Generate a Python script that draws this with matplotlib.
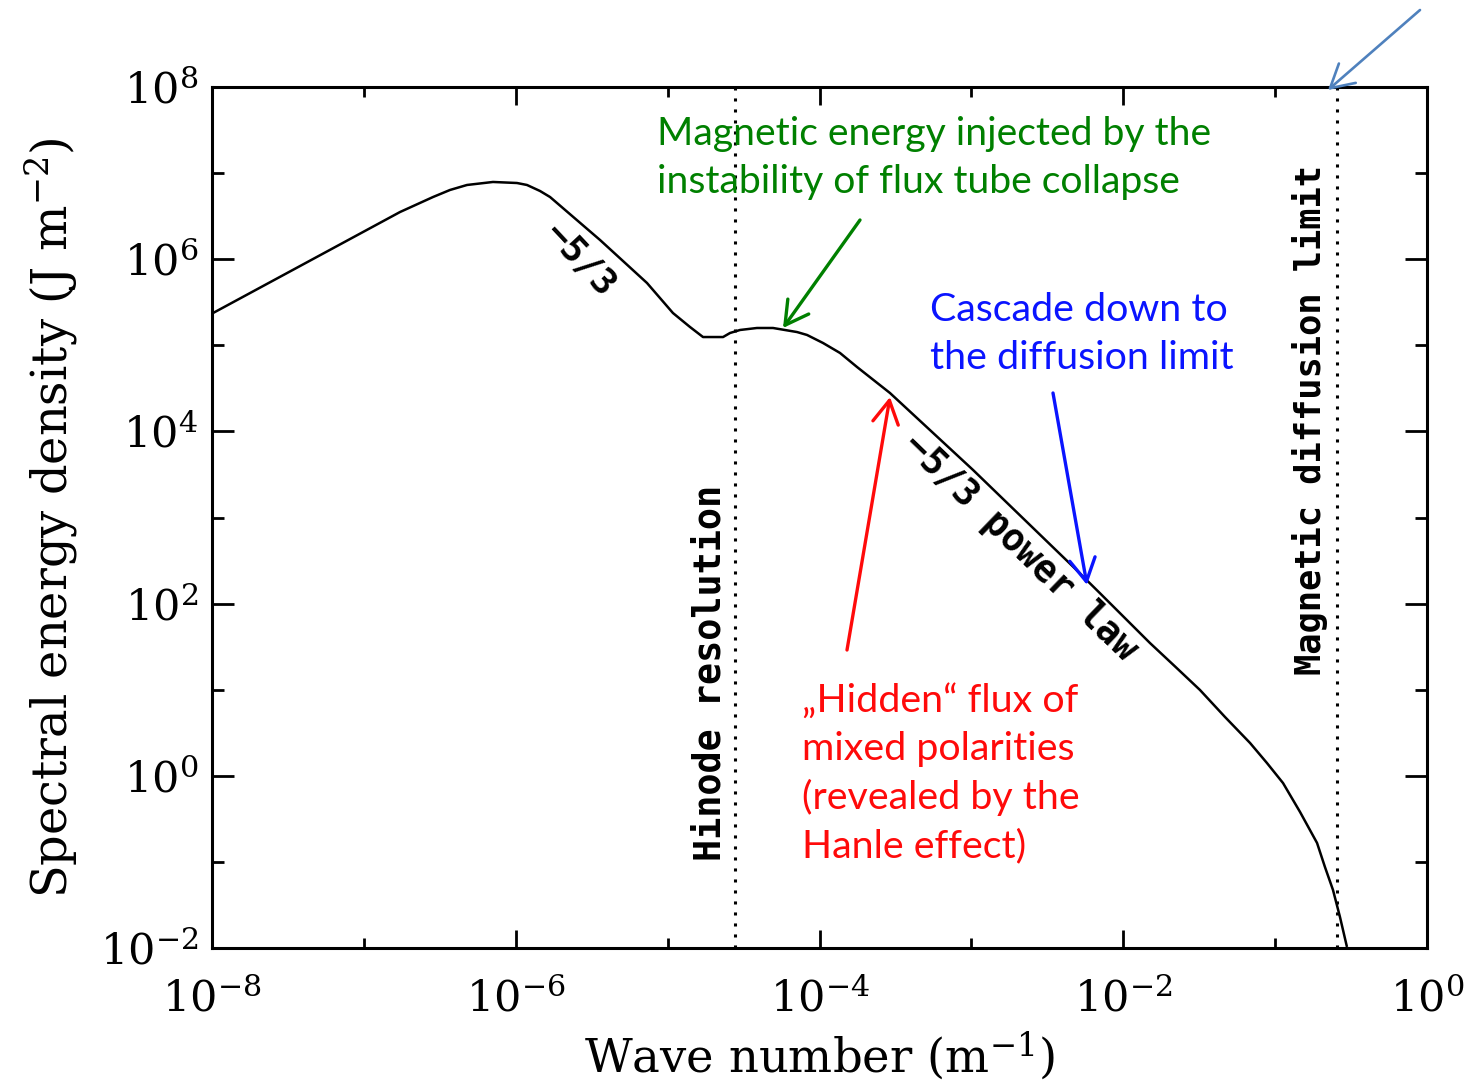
import numpy as np
import matplotlib
matplotlib.use("Agg")
import matplotlib.pyplot as plt

# spectrum (log10 values)
log_k = [-7.993, -7.421, -6.762, -6.545, -6.433, -6.321, -6.150, -5.992, -5.926,
         -5.840, -5.774, -5.445, -5.136, -4.965, -4.853, -4.767, -4.635, -4.589,
         -4.523, -4.412, -4.306, -4.148, -4.082, -3.977, -3.865, -3.753, -3.536,
         -2.989, -2.331, -2.153, -1.824, -1.659, -1.495, -1.330, -1.165, -1.054,
         -0.948, -0.836, -0.724, -0.672, -0.619, -0.573, -0.527]
log_E = [5.375, 5.920, 6.548, 6.722, 6.804, 6.862, 6.897, 6.885, 6.862,
         6.792, 6.722, 6.223, 5.724, 5.375, 5.213, 5.096, 5.096, 5.143,
         5.178, 5.201, 5.201, 5.154, 5.120, 5.027, 4.911, 4.748, 4.446,
         3.552, 2.430, 2.120, 1.542, 1.270, 0.997, 0.683, 0.381, 0.149,
         -0.084, -0.420, -0.780, -1.059, -1.326, -1.640, -1.988]

k_hinode = 2.77e-5
k_diffusion = 0.255

x_major = [1e-8, 1e-6, 1e-4, 1e-2, 1e0]
x_minor = [1e-7, 1e-5, 1e-3, 1e-1]
y_major = [1e-2, 1e0, 1e2, 1e4, 1e6, 1e8]
y_minor = [1e-1, 1e1, 1e3, 1e5, 1e7]

plt.rcParams['mathtext.fontset'] = 'dejavuserif'
serif = 'DejaVu Serif'
mono = 'DejaVu Sans Mono'
sans = 'Lato'

W, H = 1465, 1083
fig = plt.figure(figsize=(W / 100, H / 100), dpi=100)
ax = fig.add_axes([212 / W, 1 - 948 / H, (1427 - 212) / W, (948 - 87) / H])


def px(x, y):
    # figure pixel -> figure fraction
    return (x / W, 1 - y / H)


k = 10 ** np.array(log_k)
E = 10 ** np.array(log_E)
ax.plot(k, E, color='black', lw=1.8, solid_capstyle='butt', solid_joinstyle='round')
ax.axvline(k_hinode, color='black', ls=(0, (1, 2.6)), lw=2.2)
ax.axvline(k_diffusion, color='black', ls=(0, (1, 2.6)), lw=2.2)

ax.set_xscale('log')
ax.set_yscale('log')
ax.set_xlim(1e-8, 1e0)
ax.set_ylim(1e-2, 1e8)
ax.set_xticks(x_major)
ax.set_xticks(x_minor, minor=True)
ax.set_yticks(y_major)
ax.set_yticks(y_minor, minor=True)
ax.set_xticklabels([r'$10^{%d}$' % round(np.log10(v)) for v in x_major])
ax.set_yticklabels([r'$10^{%d}$' % round(np.log10(v)) for v in y_major])
ax.xaxis.set_minor_formatter(matplotlib.ticker.NullFormatter())
ax.yaxis.set_minor_formatter(matplotlib.ticker.NullFormatter())

ax.tick_params(which='both', direction='in', top=True, right=True, width=2,
               labelsize=31, color='black')
ax.tick_params(axis='x', which='major', length=13, pad=22)
ax.tick_params(axis='x', which='minor', length=7)
ax.tick_params(axis='y', which='major', length=16, pad=10)
ax.tick_params(axis='y', which='minor', length=8.5)
for s in ax.spines.values():
    s.set_linewidth(2.2)

ax.set_xlabel(r'Wave number (m$^{-1}$)', fontsize=33.5, family=serif, labelpad=6)
ax.set_ylabel(r'Spectral energy density (J m$^{-2}$)', fontsize=34.5,
              family=serif, labelpad=14)

# black labels inside the plot
fig.text(*px(710, 673), 'Hinode resolution', rotation=90, ha='center',
         va='center', fontsize=26.5, family=mono, fontweight='bold')
fig.text(*px(1310, 420), 'Magnetic diffusion limit', rotation=90, ha='center',
         va='center', fontsize=25.5, family=mono, fontweight='bold')
fig.text(*px(580, 260), '−5/3', rotation=-47, ha='center', va='center',
         fontsize=26, family=mono, fontweight='bold', rotation_mode='anchor')
fig.text(*px(1020, 547), '−5/3 power law', rotation=-44, ha='center',
         va='center', fontsize=26.5, family=mono, fontweight='bold',
         rotation_mode='anchor')

# coloured notes (va='baseline' aligns the last line)
green = '#008000'
blue = '#0a14ff'
red = '#ff0a0a'
fig.text(*px(657, 193), 'Magnetic energy injected by the\ninstability of flux tube collapse',
         color=green, fontsize=28.2, family=sans, ha='left', va='baseline',
         linespacing=1.41)
fig.text(*px(930, 369), 'Cascade down to\nthe diffusion limit',
         color=blue, fontsize=28.4, family=sans, ha='left', va='baseline',
         linespacing=1.41)
fig.text(*px(802, 857), '„Hidden“ flux of\nmixed polarities\n(revealed by the\nHanle effect)',
         color=red, fontsize=28.4, family=sans, ha='left', va='baseline',
         linespacing=1.41)


def arrow(tail, head, color, lw=1.8):
    fig.add_artist(matplotlib.patches.FancyArrowPatch(
        px(*tail), px(*head), transform=fig.transFigure,
        arrowstyle='->,head_length=0.75,head_width=0.42', mutation_scale=22,
        color=color, lw=lw, shrinkA=0, shrinkB=0, capstyle='round',
        joinstyle='round'))


arrow((860, 220), (783, 328), green, 2.4)
arrow((1053, 393), (1087, 585), blue, 2.4)
arrow((847, 650), (890, 397), red, 2.4)
arrow((1420, 10), (1328, 90), '#4f81bd', 1.9)

fig.savefig('out.png', dpi=100)
